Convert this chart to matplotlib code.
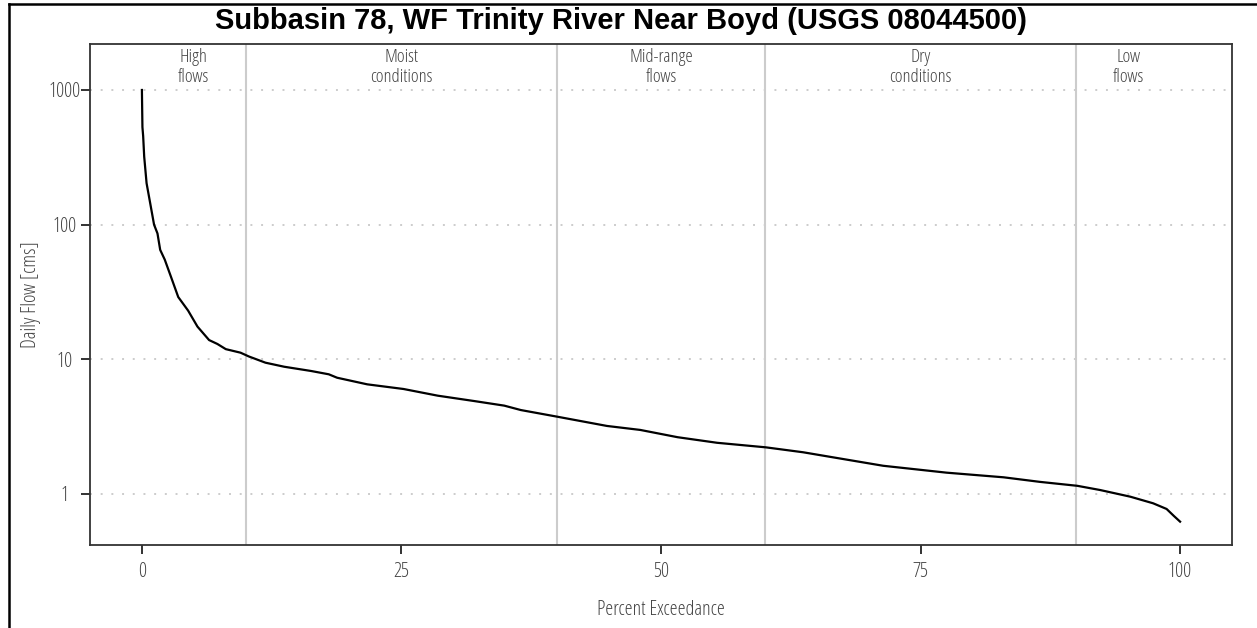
import numpy as np
import matplotlib.pyplot as plt
from matplotlib import font_manager
from matplotlib.lines import Line2D

# flow duration curve: percent of time exceeded vs daily flow
pct = [0, 0.05, 0.12, 0.22, 0.45, 0.8, 1.17, 1.5, 1.76, 2.2, 2.8, 3.5, 4.45,
       5.35, 6.47, 7.27, 8.08, 9.5, 10.3, 11.9, 13.7, 16.3, 18.0, 18.8, 21.7,
       25.2, 28.5, 32.0, 34.9, 36.5, 40.0, 44.8, 48.0, 51.6, 55.4, 60.1, 63.7,
       66.6, 71.4, 77.5, 83.0, 86.5, 90.1, 92.3, 95.2, 97.4, 98.7, 99.4, 100]
flow = [1000, 530, 455, 320, 203, 144, 100, 86, 65, 55, 41, 29, 23,
        17.5, 13.9, 13.0, 11.9, 11.2, 10.5, 9.44, 8.81, 8.19, 7.74, 7.3, 6.52,
        6.02, 5.37, 4.90, 4.53, 4.2, 3.75, 3.2, 2.99, 2.64, 2.40, 2.22, 2.04,
        1.87, 1.62, 1.44, 1.33, 1.23, 1.15, 1.07, 0.955, 0.853, 0.774, 0.687, 0.623]

zone_breaks = [10, 40, 60, 90]
zone_centers = [5, 25, 50, 75, 95]
zone_labels = ["High\nflows", "Moist\nconditions", "Mid-range\nflows",
               "Dry\nconditions", "Low\nflows"]

y_ticks = [1, 10, 100, 1000]
x_ticks = [0, 25, 50, 75, 100]

cond = font_manager.FontProperties(family="Open Sans", stretch="condensed", weight="light")
gray = "#444444"

fig = plt.figure(figsize=(12.57, 6.28), dpi=100)
ax = fig.add_axes([90 / 1257, 1 - 545 / 628, (1232 - 90) / 1257, (545 - 44) / 628])

for b in zone_breaks:
    ax.axvline(b, color="#cccccc", lw=1.5, zorder=1)
for t in y_ticks:
    ax.axhline(t, color="#cccccc", lw=1.4, dashes=(1, 4.5), zorder=1)

ax.plot(pct, flow, color="black", lw=1.6, zorder=3)

ax.set_yscale("log")
ax.set_xlim(-5, 105)
ax.set_ylim(0.418, 2195)
ax.set_xticks(x_ticks)
ax.set_xticklabels([str(v) for v in x_ticks])
ax.set_yticks(y_ticks)
ax.set_yticklabels([str(v) for v in y_ticks])
ax.yaxis.set_minor_locator(plt.NullLocator())

ax.tick_params(axis="both", length=6.5, width=1.3, color="#222222", labelcolor=gray)
ax.tick_params(axis="y", pad=12)
ax.tick_params(axis="x", pad=6)
for lab in ax.get_yticklabels():
    lab.set_fontproperties(cond)
    lab.set_fontsize(14.5)
    lab.set_ha("center")
for lab in ax.get_xticklabels():
    lab.set_fontproperties(cond)
    lab.set_fontsize(14.5)

for s in ax.spines.values():
    s.set_color("#333333")
    s.set_linewidth(1.3)

for xc, lab in zip(zone_centers, zone_labels):
    ax.text(xc, 0.993, lab, transform=ax.get_xaxis_transform(), ha="center", va="top",
            fontproperties=cond, fontsize=13.5, color=gray, linespacing=1.2)

ax.set_xlabel("Percent Exceedance", fontproperties=cond, fontsize=14.5, color=gray, labelpad=13)
ax.set_ylabel("Daily Flow [cms]", fontproperties=cond, fontsize=14.5, color=gray, labelpad=5)

fig.text(621 / 1257, 1 - 21 / 628, "Subbasin 78, WF Trinity River Near Boyd (USGS 08044500)",
         ha="center", va="center", fontsize=21, fontweight="bold",
         family="Liberation Sans")

# frame lines along the top and left edge
fig.add_artist(Line2D([8.5 / 1257, 8.5 / 1257], [0, 1 - 3.5 / 628], transform=fig.transFigure,
                      color="black", lw=1.8))
fig.add_artist(Line2D([8.5 / 1257, 1], [1 - 3.5 / 628, 1 - 3.5 / 628], transform=fig.transFigure,
                      color="black", lw=1.8))

fig.savefig("out.png", dpi=100)
